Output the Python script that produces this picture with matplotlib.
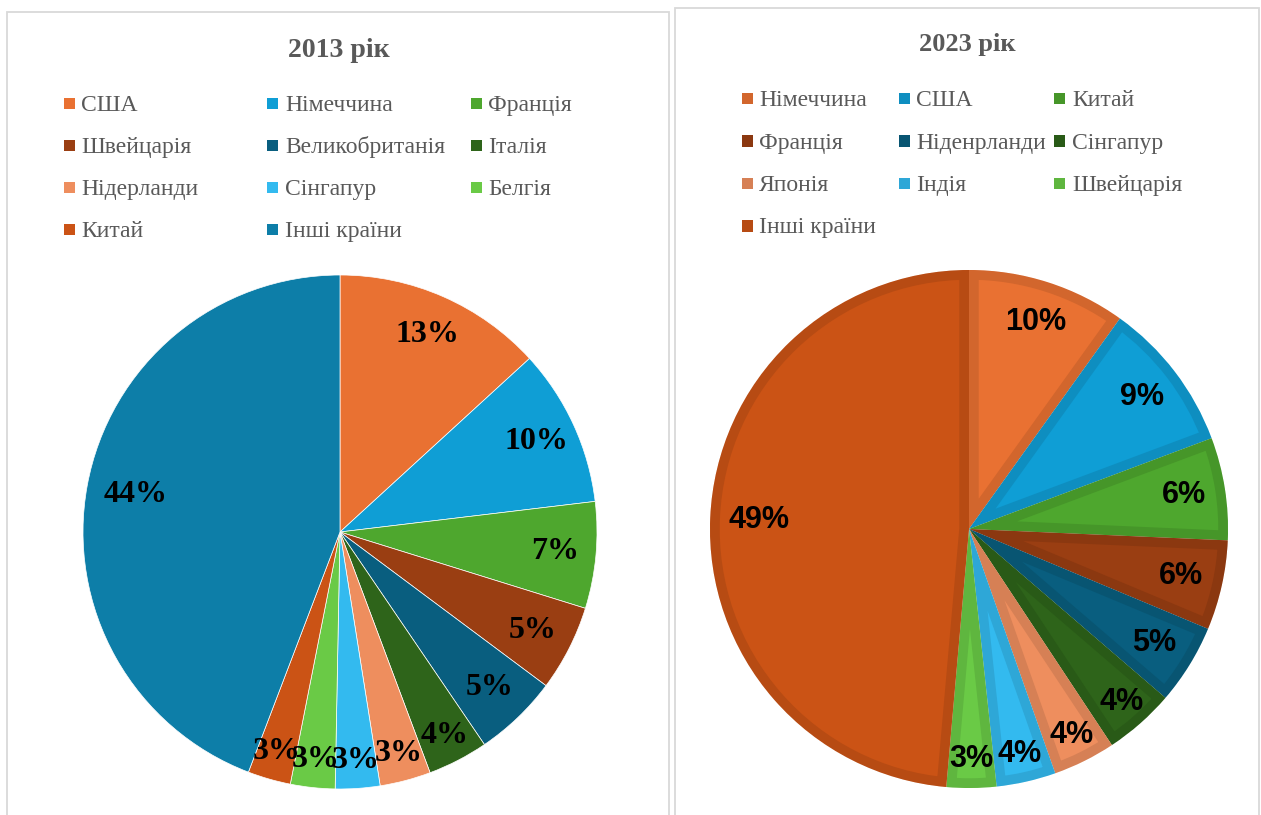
import matplotlib
matplotlib.use('Agg')
import matplotlib.pyplot as plt
from matplotlib.patches import Rectangle, Wedge
from matplotlib.colors import to_rgb
import numpy as np

# ---------------- data ----------------
title_2013 = '2013 рік'
names_2013 = ['США', 'Німеччина', 'Франція', 'Швейцарія', 'Великобританія', 'Італія',
              'Нідерланди', 'Сінгапур', 'Белгія', 'Китай', 'Інші країни']
values_2013 = [13.2, 9.9, 6.7, 5.4, 5.3, 3.8, 3.2, 2.8, 2.8, 2.7, 44.2]
colors_2013 = ['#E97132', '#0F9ED5', '#4EA72E', '#9A3E12', '#095E7F', '#2E641A',
               '#EE8E5E', '#33BAEF', '#6ACA46', '#CB5315', '#0D7EA8']

title_2023 = '2023 рік'
names_2023 = ['Німеччина', 'США', 'Китай', 'Франція', 'Ніденрланди', 'Сінгапур',
              'Японія', 'Індія', 'Швейцарія', 'Інші країни']
values_2023 = [9.9, 9.4, 6.4, 5.6, 5.0, 4.4, 3.9, 3.7, 3.1, 48.6]
colors_2023 = ['#E97132', '#0F9ED5', '#4EA72E', '#9A3E12', '#095E7F', '#2E641A',
               '#EE8E5E', '#33BAEF', '#6ACA46', '#CB5315']

# ---------------- layout ----------------
W, H = 1261, 815
fig = plt.figure(figsize=(W / 100, H / 100), dpi=100)
fig.patch.set_facecolor('white')

def fx(px):
    return px / W

def fy(py):
    return 1 - py / H

def darker(c, f=0.9):
    r, g, b = to_rgb(c)
    return (r * f, g * f, b * f)

GREY = '#595959'
BORDER = '#D9D9D9'

# panel frames
fig.add_artist(Rectangle((fx(7), fy(840)), (669 - 7) / W, (840 - 12) / H,
                         transform=fig.transFigure, fill=False, ec=BORDER, lw=1.3))
fig.add_artist(Rectangle((fx(675), fy(840)), (1259 - 675) / W, (840 - 8) / H,
                         transform=fig.transFigure, fill=False, ec=BORDER, lw=1.3))

# titles
fig.text(fx(338.5), fy(57.3), title_2013, ha='center', va='baseline', fontsize=20,
         weight='bold', color=GREY, family='Liberation Serif')
fig.text(fx(967.5), fy(50.7), title_2023, ha='center', va='baseline', fontsize=19,
         weight='bold', color=GREY, family='Liberation Serif')

# legends (manual grid, Excel-style)
def draw_legend(names, colors, marker_x, text_x, row_y):
    for i, (nm, col) in enumerate(zip(names, colors)):
        r, c = divmod(i, 3)
        my = row_y[r]
        fig.add_artist(Rectangle((fx(marker_x[c]), fy(my + 5.5)), 11 / W, 11 / H,
                                 transform=fig.transFigure, color=col, lw=0))
        fig.text(fx(text_x[c]), fy(my + 7.5), nm, ha='left', va='baseline', fontsize=17,
                 color=GREY, family='Liberation Serif')

draw_legend(names_2013, colors_2013, [64, 267, 471], [81, 285, 488],
            [103.5, 145.5, 187.5, 229.5])
draw_legend(names_2023, [darker(c) for c in colors_2023], [742, 899, 1054],
            [759, 916, 1072], [98.5, 141, 183.5, 226])

def pie_axes(cx, cy, r):
    return fig.add_axes([fx(cx - r), fy(cy + r), 2 * r / W, 2 * r / H])

def place_labels(wedges, autotexts, values):
    for w, t, v in zip(wedges, autotexts, values):
        ang = np.deg2rad((w.theta1 + w.theta2) / 2)
        d = 0.89 if v < 4.5 else (0.81 if v > 30 else 0.84)
        t.set_position((d * np.cos(ang), d * np.sin(ang)))
        t.set_zorder(5)

# left pie
ax1 = pie_axes(340, 532, 257)
w1, t1, a1 = ax1.pie(values_2013, colors=colors_2013, startangle=90, counterclock=False,
                     autopct='%.0f%%', pctdistance=0.84, radius=1,
                     wedgeprops=dict(edgecolor='white', linewidth=0.5),
                     textprops=dict(fontsize=23, weight='bold', color='black',
                                    family='Liberation Serif'))
place_labels(w1, a1, values_2013)
ax1.set_xlim(-1, 1)
ax1.set_ylim(-1, 1)
ax1.axis('off')

# right pie
ax2 = pie_axes(969, 529, 259)
w2, t2, a2 = ax2.pie(values_2023, colors=colors_2023, startangle=90, counterclock=False,
                     autopct='%.0f%%', pctdistance=0.84, radius=1,
                     wedgeprops=dict(edgecolor='white', linewidth=0.5),
                     textprops=dict(fontsize=22, weight='bold', color='black',
                                    family='Liberation Sans'))
for w, col in zip(w2, colors_2023):
    b = Wedge(w.center, w.r, w.theta1, w.theta2, fill=False, ec=darker(col), lw=14)
    ax2.add_patch(b)
    b.set_clip_path(w)
place_labels(w2, a2, values_2023)
ax2.set_xlim(-1, 1)
ax2.set_ylim(-1, 1)
ax2.axis('off')

fig.savefig('out.png', dpi=100)
